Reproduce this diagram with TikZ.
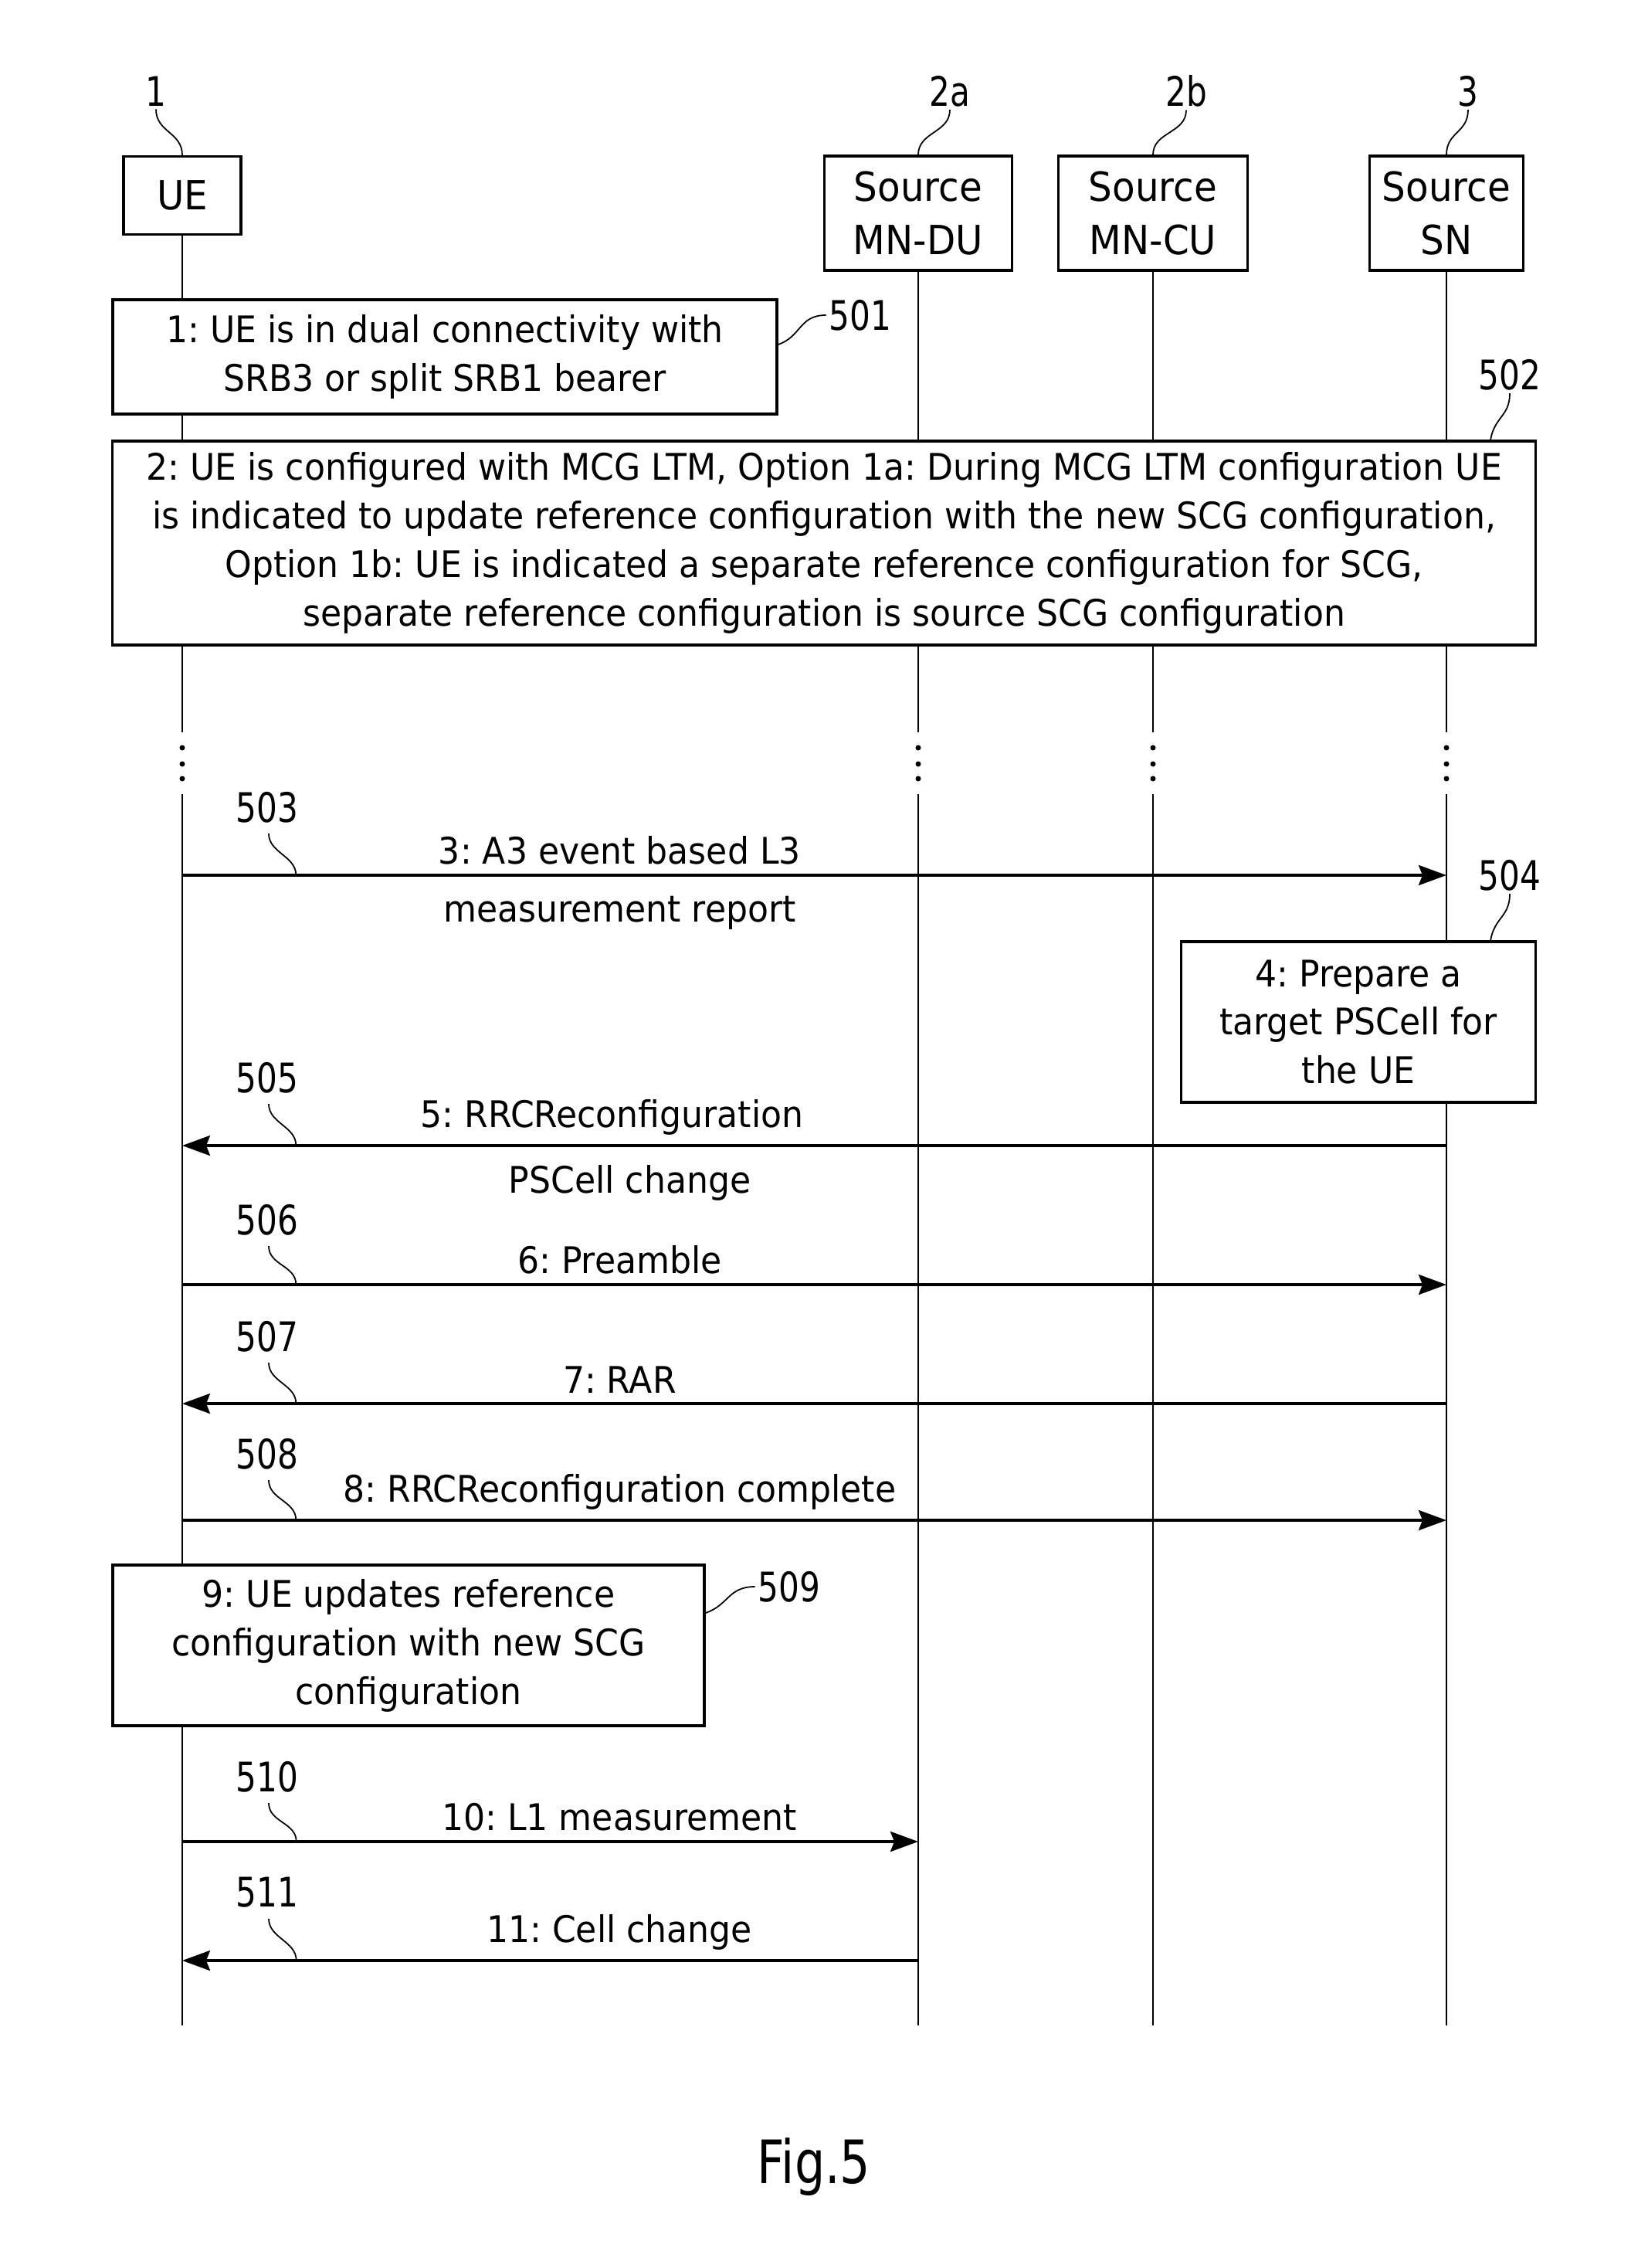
\documentclass[tikz,border=0pt]{standalone}
\usepackage{fontspec}
\setmainfont{DejaVu Sans}
\newfontfamily\txtfont[FakeStretch=0.93]{DejaVu Sans}
\newfontfamily\numfont[FakeStretch=0.8]{DejaVu Sans}
\usetikzlibrary{arrows.meta}
\frenchspacing

\tikzset{
  entity/.style={draw, line width=0.9pt, fill=white, align=center, inner sep=2pt,
    font=\txtfont\fontsize{14.8}{19.5}\selectfont},
  stepbox/.style={draw, line width=0.9pt, fill=white, align=center, inner sep=2pt,
    font=\txtfont\fontsize{13.5}{17.9}\selectfont},
  life/.style={line width=0.7pt},
  msg/.style={line width=1pt, -{Stealth[length=3.6mm,width=2.6mm,inset=0.5mm]}},
  lbl/.style={font=\txtfont\fontsize{13.5}{16}\selectfont},
  refno/.style={font=\numfont\fontsize{15}{18}\selectfont, inner sep=1pt},
  lead/.style={line width=0.5pt}
}

\begin{document}
\begin{tikzpicture}
\useasboundingbox (0,0) rectangle (21.33,-29.36);

% entities
\node[entity, minimum width=1.52cm, minimum height=1.01cm] (ue) at (2.36,-2.53) {UE};
\node[entity, minimum width=2.43cm, minimum height=1.48cm] (du) at (11.89,-2.76) {Source\\MN-DU};
\node[entity, minimum width=2.45cm, minimum height=1.48cm] (cu) at (14.93,-2.76) {Source\\MN-CU};
\node[entity, minimum width=1.99cm, minimum height=1.48cm] (sn) at (18.73,-2.76) {Source\\SN};

\node[refno] (r1)  at (2.02,-1.18)  {1};
\node[refno] (r2a) at (12.30,-1.18) {2a};
\node[refno] (r2b) at (15.36,-1.18) {2b};
\node[refno] (r3)  at (19.01,-1.18) {3};
\draw[lead] (r1.south)  .. controls +(0,-0.3) and +(0,0.3) .. (ue.north);
\draw[lead] (r2a.south) .. controls +(0,-0.3) and +(0,0.3) .. (du.north);
\draw[lead] (r2b.south) .. controls +(0,-0.3) and +(0,0.3) .. (cu.north);
\draw[lead] (r3.south)  .. controls +(0,-0.3) and +(0,0.3) .. (sn.north);

% lifelines, broken by three dots
\foreach \e/\x in {ue/2.36, du/11.89, cu/14.93, sn/18.73} {
  \draw[life] (\e.south) -- (\x,-9.48);
  \foreach \y in {-9.68,-9.89,-10.08}
    \fill (\x,\y) circle (0.035);
  \draw[life] (\x,-10.28) -- (\x,-26.22);
}

% 1 and 2
\node[stepbox, minimum width=8.60cm, minimum height=1.48cm] (b501) at (5.76,-4.62)
  {1: UE is in dual connectivity with\\SRB3 or split SRB1 bearer};
\node[stepbox, minimum width=18.43cm, minimum height=2.64cm] (b502) at (10.67,-7.03)
  {2: UE is configured with MCG LTM, Option 1a: During MCG LTM configuration UE\\
   is indicated to update reference configuration with the new SCG configuration,\\
   Option 1b: UE is indicated a separate reference configuration for SCG,\\
   separate reference configuration is source SCG configuration};
\node[refno] (r501) at (11.14,-4.08) {501};
\node[refno] (r502) at (19.55,-4.85) {502};
\draw[lead] (r501.west) .. controls +(-0.35,0) and +(0.3,0.1) .. ([yshift=1.6mm]b501.east);
\draw[lead] (r502.south) .. controls +(0,-0.3) and +(0.05,0.3) .. ([xshift=-6mm]b502.north east);

% messages
\coordinate (u3) at (2.36,-11.33);   \coordinate (s3) at (18.73,-11.33);
\coordinate (u5) at (2.36,-14.83);   \coordinate (s5) at (18.73,-14.83);
\coordinate (u6) at (2.36,-16.63);   \coordinate (s6) at (18.73,-16.63);
\coordinate (u7) at (2.36,-18.17);   \coordinate (s7) at (18.73,-18.17);
\coordinate (u8) at (2.36,-19.68);   \coordinate (s8) at (18.73,-19.68);
\coordinate (u10) at (2.36,-23.84);  \coordinate (d10) at (11.89,-23.84);
\coordinate (u11) at (2.36,-25.38);  \coordinate (d11) at (11.89,-25.38);

\draw[msg] (u3) -- coordinate[pos=.09] (t3)
  node[lbl, pos=.346, above] {3: A3 event based L3}
  node[lbl, pos=.346, below=1.4mm] {measurement report} (s3);

\node[stepbox, minimum width=4.59cm, minimum height=2.08cm] (b504) at (17.59,-13.23)
  {4: Prepare a\\target PSCell for\\the UE};
\node[refno] (r504) at (19.55,-11.33) {504};
\draw[lead] (r504.south) .. controls +(0,-0.3) and +(0.05,0.3) .. ([xshift=-6mm]b504.north east);

\draw[msg] (s5) -- coordinate[pos=.91] (t5)
  node[lbl, pos=.66, above] {5: RRCReconfiguration}
  node[lbl, pos=.646, below=1.2mm] {PSCell change} (u5);
\draw[msg] (u6) -- coordinate[pos=.09] (t6) node[lbl, pos=.346, above] {6: Preamble} (s6);
\draw[msg] (s7) -- coordinate[pos=.91] (t7) node[lbl, pos=.654, above] {7: RAR} (u7);
\draw[msg] (u8) -- coordinate[pos=.09] (t8)
  node[lbl, pos=.346, above] {8: RRCReconfiguration complete} (s8);

\node[stepbox, minimum width=7.66cm, minimum height=2.08cm] (b509) at (5.29,-21.30)
  {9: UE updates reference\\configuration with new SCG\\configuration};
\node[refno] (r509) at (10.22,-20.54) {509};
\draw[lead] (r509.west) .. controls +(-0.35,0) and +(0.3,0.1) .. ([yshift=4.2mm]b509.east);

\draw[msg] (u10) -- coordinate[pos=.155] (t10) node[lbl, pos=.594, above] {10: L1 measurement} (d10);
\draw[msg] (d11) -- coordinate[pos=.845] (t11) node[lbl, pos=.406, above] {11: Cell change} (u11);

% reference numbers of the messages
\foreach \n/\y in {3/-10.45, 5/-13.95, 6/-15.79, 7/-17.30, 8/-18.82, 10/-23.00, 11/-24.50} {
  \pgfmathtruncatemacro{\r}{500+\n}
  \node[refno] (r\r) at (3.46,\y) {\r};
  \draw[lead] (r\r.south) ++(0.02,-0.1) .. controls +(0,-0.25) and +(0,0.25) .. (t\n);
}

\node[font=\numfont\fontsize{22}{26}\selectfont] (fig) at (10.54,-28.05) {Fig.5};
\end{tikzpicture}
\end{document}
